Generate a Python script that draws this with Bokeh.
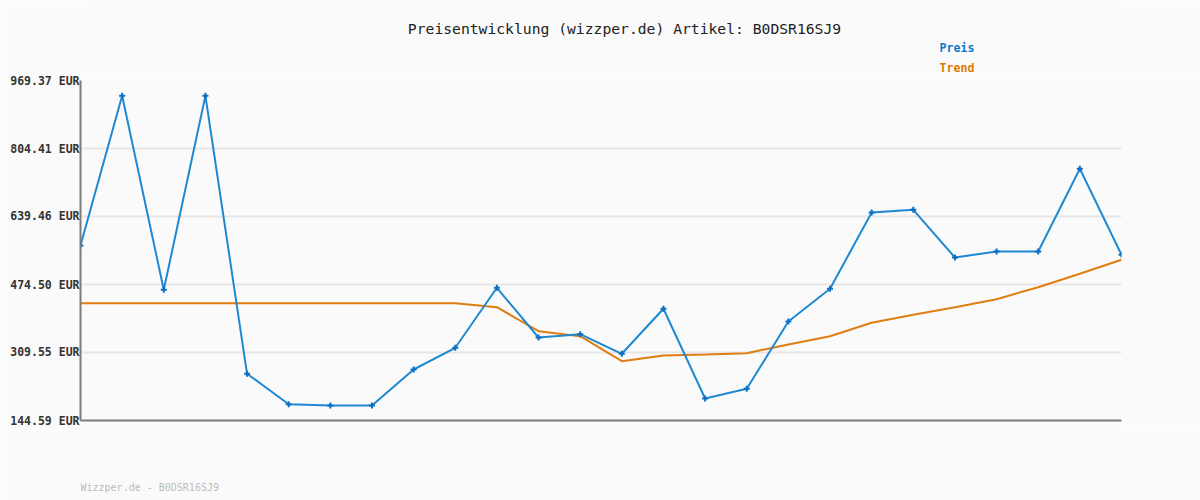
from bokeh.plotting import figure
from bokeh.models import FixedTicker, Range1d
from bokeh.layouts import column
from bokeh.core.properties import value
from bokeh.embed import file_html
from bokeh.resources import INLINE

preis = [569.1, 932.3, 461.7, 932.3, 257.9, 184.1, 181.0, 181.0, 268.3, 321.0,
         466.5, 345.9, 353.9, 306.4, 415.6, 198.0, 221.5, 384.8, 464.1, 649.2,
         655.7, 540.0, 554.6, 554.6, 755.2, 546.6]
trend = [429.1, 429.1, 429.1, 429.1, 429.1, 429.1, 429.1, 429.1, 429.1, 429.1,
         419.4, 361.2, 349.1, 288.5, 302.3, 304.7, 307.9, 329.0, 349.1, 381.6,
         401.0, 419.4, 438.9, 468.0, 500.5, 534.4]
y_ticks = [144.59, 309.55, 474.50, 639.46, 804.41, 969.37]
y_tick_labels = ["144.59 EUR", "309.55 EUR", "474.50 EUR", "639.46 EUR", "804.41 EUR", "969.37 EUR"]
title_text = "Preisentwicklung (wizzper.de) Artikel: B0DSR16SJ9"
footer_text = "Wizzper.de - B0DSR16SJ9"
series_names = ["Preis", "Trend"]

x = list(range(len(preis)))
MONO = "DejaVu Sans Mono"
BG = "#fafafa"
W = 1200
LEFT, RIGHT = 80, 79
HEAD_H, MAIN_TOP, FRAME_H, MAIN_BOT = 73, 7, 340, 10
MAIN_H = MAIN_TOP + FRAME_H + MAIN_BOT
FOOT_H = 500 - HEAD_H - MAIN_H


def blank(h):
    # frame aligned with the main chart frame; data units == page pixels
    f = figure(width=W, height=h, output_backend="svg", toolbar_location=None,
               x_range=Range1d(LEFT, W - RIGHT), y_range=Range1d(h, 0),
               min_border_left=LEFT, min_border_right=RIGHT, min_border_top=0, min_border_bottom=0,
               background_fill_color=BG, border_fill_color=BG, outline_line_color=None)
    f.axis.visible = False
    f.grid.visible = False
    return f


# header: title + series legend (positions in page pixels)
head = blank(HEAD_H)
head.text(x=[624], y=[28], text=[title_text], text_font=value(MONO), text_font_size="14.7px",
          text_color="#222222", text_align="center", text_baseline="middle")
head.text(x=[939], y=[47], text=[series_names[0]], text_font=value(MONO), text_font_size="11.6px",
          text_font_style="bold", text_color="#0a78c8", text_align="left", text_baseline="middle")
head.text(x=[939], y=[67], text=[series_names[1]], text_font=value(MONO), text_font_size="11.6px",
          text_font_style="bold", text_color="#dd7a00", text_align="left", text_baseline="middle")

# main chart
p = figure(width=W, height=MAIN_H, output_backend="svg", toolbar_location=None,
           x_range=Range1d(0, len(preis) - 1), y_range=Range1d(y_ticks[0], y_ticks[-1]),
           min_border_left=LEFT, min_border_right=RIGHT, min_border_top=MAIN_TOP,
           min_border_bottom=MAIN_BOT,
           background_fill_color=BG, border_fill_color=BG, outline_line_color=None)

p.xaxis.ticker = FixedTicker(ticks=[])
p.xaxis.major_tick_line_color = None
p.xaxis.minor_tick_line_color = None
p.xaxis.major_tick_out = 0
p.xaxis.major_label_standoff = 0
p.xaxis.axis_line_color = "#7a7a7a"
p.xaxis.axis_line_width = 2
p.xgrid.grid_line_color = None

p.yaxis.ticker = FixedTicker(ticks=y_ticks)
p.yaxis.major_label_overrides = {t: l for t, l in zip(y_ticks, y_tick_labels)}
p.yaxis.major_tick_line_color = None
p.yaxis.minor_tick_line_color = None
p.yaxis.major_tick_out = 0
p.yaxis.major_label_standoff = 1
p.yaxis.axis_line_color = "#7a7a7a"
p.yaxis.axis_line_width = 2
p.yaxis.major_label_text_font = MONO
p.yaxis.major_label_text_font_size = "11.5px"
p.yaxis.major_label_text_font_style = "bold"
p.yaxis.major_label_text_color = "#333333"
p.ygrid.grid_line_color = "#e6e6e6"
p.ygrid.grid_line_width = 2

p.line(x, trend, line_color="#e07d10", line_width=2)
p.line(x, preis, line_color="#1f88d2", line_width=2)
p.scatter(x, preis, marker="cross", size=6, line_color="#0a6fc2", line_width=2)

# footer
foot = blank(FOOT_H)
foot.text(x=[80], y=[487 - (HEAD_H + MAIN_H)], text=[footer_text], text_font=value(MONO),
          text_font_size="10px", text_color="#bbbbbb", text_align="left", text_baseline="middle")

page = column(head, p, foot, spacing=0)
open("out.html", "w").write(file_html(page, INLINE))
